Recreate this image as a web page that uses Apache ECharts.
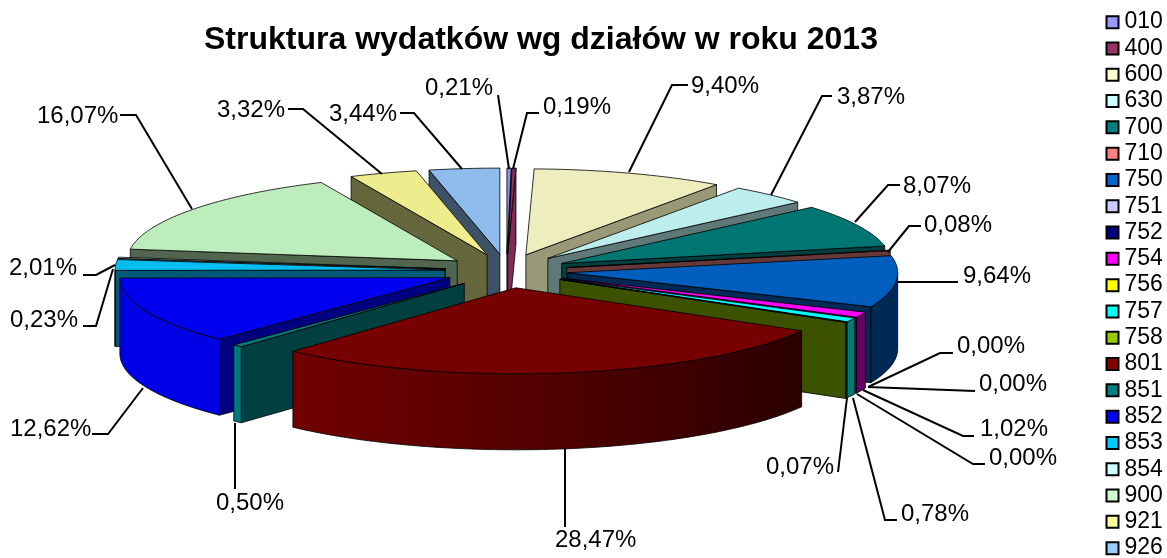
<!DOCTYPE html>
<html><head><meta charset="utf-8">
<style>html,body{margin:0;padding:0;background:#fff}#c{width:1167px;height:558px}</style>
<script src="https://cdn.jsdelivr.net/npm/echarts@6/dist/echarts.min.js"></script>
</head><body><div id="c"></div>
<script>
const categories = ['010','400','600','630','700','710','750','751','752','754','756','757','758','801','851','852','853','854','900','921','926'];
const shares = [0.21,0.19,9.40,3.87,8.07,0.08,9.64,0.00,0.00,1.02,0.00,0.78,0.07,28.47,0.50,12.62,2.01,0.23,16.07,3.32,3.44];
const legendColors = ['#9999FF','#993366','#FFFFCC','#CCFFFF','#008080','#FF8080','#0066CC','#CCCCFF','#000080','#FF00FF','#FFFF00','#00FFFF','#99CC00','#800000','#008080','#0000FF','#00CCFF','#CCFFFF','#CCFFCC','#FFFF99','#99CCFF'];
const topColors = ['#8C8CEB','#8C2E5E','#EDEDBE','#BDEDED','#007672','#EB7676','#005FBE','#BDBDEB','#000076','#FF00FF','#EDED00','#00FFFF','#8EBD00','#770000','#007A7A','#0000F0','#00BFF0','#BDEDED','#BDEDBD','#EDED8E','#8EBDED'];
const faceColors = ['#3D3D66','#7F2B58','#999977','#5F7878','#004040','#663838','#002A55','#525266','#000033','#660066','#666600','#006666','#3D5200','#4A0000','#004040','#000080','#005A78','#526666','#52664F','#66663D','#3D5266'];
const wallColors = ['#5C5C99','#5C1F3D','#999977','#7A9999','#004D4D','#994D4D','#002A55','#7A7A99','#00004D','#660066','#999900','#007A7A','#5C7A00',null,'#007A7A','#0000E6','#007A99','#7A9999','#7A997A','#99995C','#5C7A99'];
const depthOrder = [0,1,20,2,19,3,18,4,17,5,16,15,14,6,7,8,9,10,11,12,13];
// label text anchor (x, y) and leader polyline, chosen to sit beside each slice
const labelAnchors = [[425,88],[543,107],[691,86],[837,97],[903,186],[924,225],[963,276],[957,346],[979,384],[980,429],[989,458],[901,514],[766,467],[555,540],[216,503],[10,429],[9,268],[10,320],[37,116],[217,110],[329,114]];
const leaderPaths = [
 [[498,95],[509,169]],[[539,113],[527,113],[513,169]],[[688,85],[672,85],[629,172]],[[832,96],[822,96],[771,195]],
 [[900,185],[888,185],[855,222]],[[921,226],[909,226],[888,252]],[[958,282],[898,282]],[[953,353],[940,353],[868,387]],
 [[975,391],[868,387]],[[974,436],[963,436],[863,390]],[[985,464],[973,464],[857,394]],[[897,520],[885,520],[853,398]],
 [[838,472],[847,398]],[[565,527],[565,449]],[[235,489],[235,423]],[[92,434],[108,434],[143,388]],
 [[83,275],[96,275],[115,265]],[[83,326],[96,326],[113,269]],[[120,115],[136,115],[192,209]],[[288,109],[303,109],[382,174]],[[400,113],[414,113],[462,169]]
];
const cx = 506.5, cy = 271, rx = 330, ry = 86, ex = 61.5, ey = 17, depth = 76;
const total = shares.reduce((a,b)=>a+b,0);
const deg = Math.PI/180;
function angles(i){
  let s = 0; for(let k=0;k<i;k++) s += shares[k];
  return [s/total*360,(s+shares[i])/total*360];
}
function apex(i){const [a,b]=angles(i);const m=(a+b)/2*deg;return [cx+ex*Math.sin(m),cy-ey*Math.cos(m)];}
function rim(o,t,dy){return [o[0]+rx*Math.sin(t*deg),o[1]-ry*Math.cos(t*deg)+(dy||0)];}
function arc(o,a,b,dy){const n=Math.max(2,Math.ceil(Math.abs(b-a))+1),p=[];for(let j=0;j<n;j++)p.push(rim(o,a+(b-a)*j/(n-1),dy));return p;}
const edge = {stroke:'#000',lineWidth:0.8,lineJoin:'round'};
function sliceItem(params,api){
  const i = params.seriesIndex, val = api.value(0);
  if(!(val>0)) return {type:'group',children:[]};
  const [a,b]=angles(i), o=apex(i), ch=[];
  const face=(t)=>{const r=rim(o,t);return {type:'polygon',shape:{points:[o,r,[r[0],r[1]+depth],[o[0],o[1]+depth]]},style:{fill:faceColors[i],...edge}}};
  if(Math.sin(a*deg)<0) ch.push(face(a));
  if(Math.sin(b*deg)>0) ch.push(face(b));
  const wa=Math.max(a,90), wb=Math.min(b,270);
  if(wb>wa){
    const top=arc(o,wa,wb), bot=arc(o,wb,wa,depth);
    const fill = wallColors[i] || {type:'linear',x:0,y:0,x2:1,y2:0,colorStops:[{offset:0,color:'#720000'},{offset:0.55,color:'#4E0000'},{offset:1,color:'#2B0000'}]};
    ch.push({type:'polygon',shape:{points:top.concat(bot)},style:{fill,...edge}});
  }
  ch.push({type:'polygon',shape:{points:[o].concat(arc(o,a,b))},style:{fill:topColors[i],...edge}});
  return {type:'group',children:ch};
}
function labelItem(params,api){
  const i=params.dataIndex, txt=api.value(0).toFixed(2).replace('.',',')+'%';
  return {type:'group',children:[
    {type:'polyline',shape:{points:leaderPaths[i]},style:{stroke:'#000',lineWidth:2,fill:null}},
    {type:'text',style:{x:labelAnchors[i][0],y:labelAnchors[i][1],text:txt,fill:'#000',font:'24px "Liberation Sans"',align:'left',verticalAlign:'middle'}}
  ]};
}
const series = categories.map((name,i)=>({
  type:'custom',name,coordinateSystem:'none',silent:true,animation:false,
  z:2+depthOrder.indexOf(i),data:[[shares[i]]],renderItem:sliceItem,
  itemStyle:{color:legendColors[i]}
}));
series.push({type:'custom',name:'labels',coordinateSystem:'none',silent:true,animation:false,z:40,data:shares.map(v=>[v]),renderItem:labelItem});
const chart = echarts.init(document.getElementById('c'),null,{renderer:'canvas'});
chart.setOption({
  animation:false,backgroundColor:'#fff',
  title:{text:'Struktura wydatków wg działów w roku 2013',left:204,top:24,padding:0,textStyle:{fontFamily:'"Liberation Sans"',fontWeight:'bold',fontSize:32,color:'#000'}},
  legend:{orient:'vertical',left:1105.5,top:9,padding:0,height:640,width:61,itemWidth:12,itemHeight:12,itemGap:0,selectedMode:false,
    textStyle:{fontFamily:'"Liberation Sans"',fontSize:23,color:'#000',padding:[0,0,0,1],lineHeight:26.3,height:26.3},
    data:categories.map((name,i)=>({name,icon:'rect',itemStyle:{color:legendColors[i],borderColor:'#000',borderWidth:2}}))},
  series
});
</script></body></html>
